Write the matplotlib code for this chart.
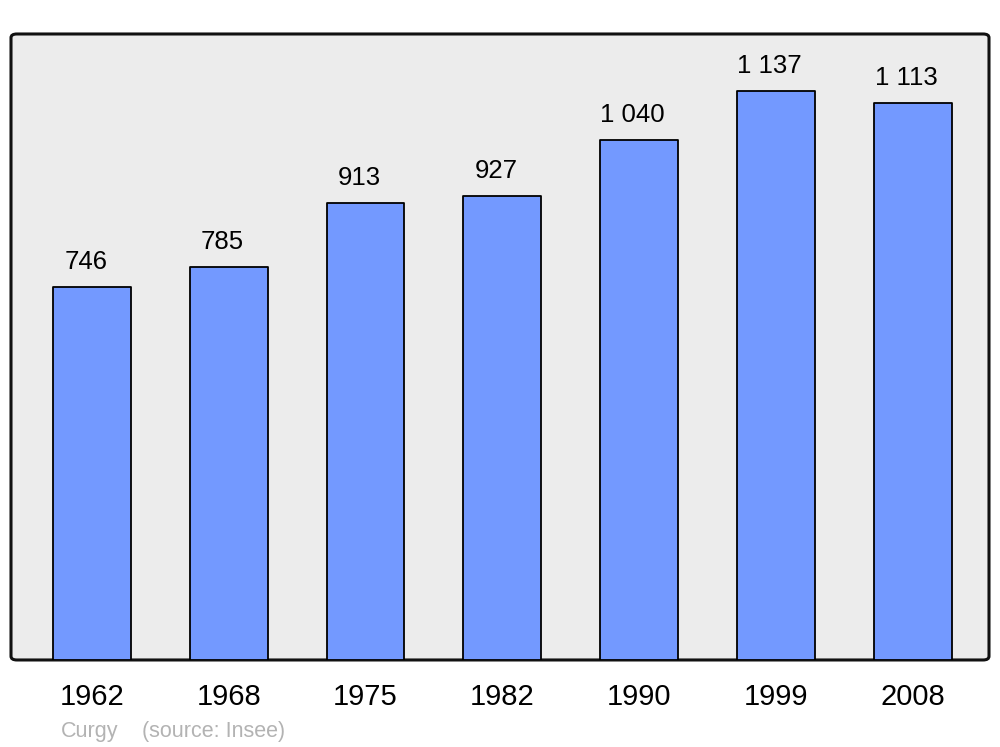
import matplotlib.pyplot as plt
from matplotlib.patches import FancyBboxPatch

# Population data
years = ['1962', '1968', '1975', '1982', '1990', '1999', '2008']
population = [746, 785, 913, 927, 1040, 1137, 1113]
town = 'Curgy'
source = '(source: Insee)'

plt.rcParams['font.family'] = ['Liberation Sans', 'DejaVu Sans']

fig = plt.figure(figsize=(10, 7.47), dpi=100)
ax = fig.add_axes([0.011, 0.1165, 0.978, 0.838])
ax.set_facecolor('none')

# rounded frame with grey background
frame = FancyBboxPatch((0, 0), 1, 1, boxstyle='round,pad=0,rounding_size=0.006',
                       transform=ax.transAxes, facecolor='#ececec', edgecolor='#111111',
                       linewidth=2.2, zorder=0, clip_on=False)
ax.add_patch(frame)

x = range(len(years))
bars = ax.bar(x, population, width=0.57, color='#7399ff', edgecolor='black',
              linewidth=1.3, zorder=2)
for b in bars:
    b.set_joinstyle('round')

for xi, v in zip(x, population):
    label = f'{v:,}'.replace(',', ' ')
    ax.annotate(label, (xi, v), xytext=(-4.5, 13), textcoords='offset points',
                ha='center', va='baseline', fontsize=18.5, color='black')

ax.set_xlim(-0.592, 6.559)
ax.set_ylim(0, 1252)
ax.set_yticks([])
ax.set_xticks(list(x))
ax.set_xticklabels(years, fontsize=21)
ax.tick_params(axis='x', length=0, pad=16.5)
for s in ax.spines.values():
    s.set_visible(False)

fig.text(0.061, 0.0134, town, fontsize=15.5, color='#b3b3b3', va='baseline')
fig.text(0.142, 0.0134, source, fontsize=15.5, color='#b3b3b3', va='baseline')

fig.savefig('out.png', dpi=100)
